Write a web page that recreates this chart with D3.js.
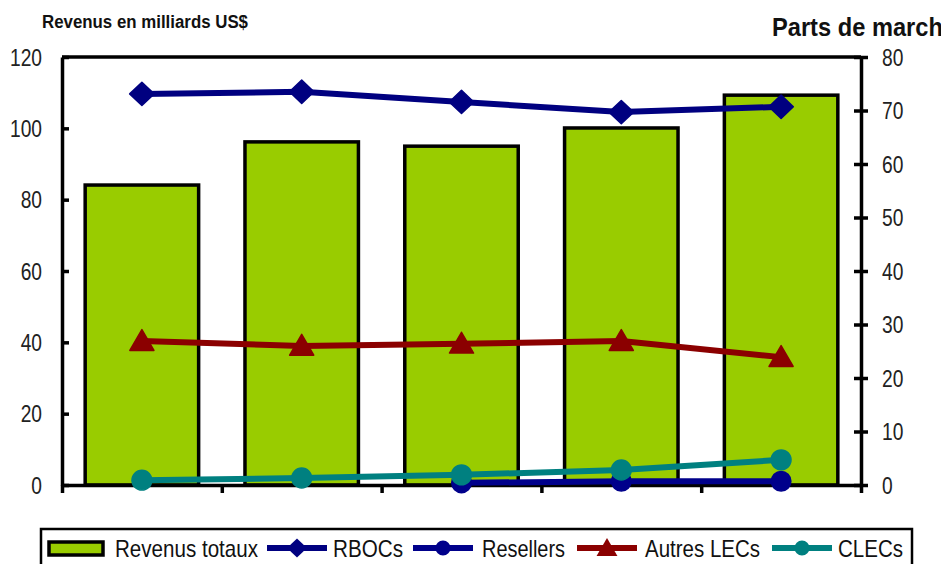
<!DOCTYPE html>
<html><head><meta charset="utf-8">
<script src="https://cdn.jsdelivr.net/npm/d3@7"></script>
<style>body{margin:0;background:#fff}svg{display:block}</style>
</head><body>
<script>
const categories = ["1", "2", "3", "4", "5"];
const revenus = [84.1, 96.2, 95.0, 100.1, 109.3];
const rbocs = [73.1, 73.5, 71.6, 69.7, 70.7];
const resellers = [null, null, 0.4, 0.7, 0.7];
const autresLECs = [26.9, 26.0, 26.4, 26.9, 23.9];
const clecs = [0.9, 1.3, 1.9, 2.8, 4.7];
const leftTicks = [0, 20, 40, 60, 80, 100, 120];
const rightTicks = [0, 10, 20, 30, 40, 50, 60, 70, 80];

const W = 941, H = 564;
const font = "'Liberation Sans',Arial,sans-serif";
const svg = d3.select("body").append("svg").attr("width", W).attr("height", H);

// condense text horizontally (Arial Narrow look)
function narrow(sel, f) {
  sel.each(function () {
    const w = this.getComputedTextLength();
    d3.select(this).attr("textLength", w * f).attr("lengthAdjust", "spacingAndGlyphs");
  });
}

// custom symbols
const diamond = {draw(ctx, size) { const r = Math.sqrt(size / 2); ctx.moveTo(0, -r * 0.95); ctx.lineTo(r, 0); ctx.lineTo(0, r * 0.95); ctx.lineTo(-r, 0); ctx.closePath(); }};
const triangle = {draw(ctx, size) { const s = Math.sqrt(size) / 2; ctx.moveTo(0, -s * 1.05); ctx.lineTo(s * 1.1, s * 0.85); ctx.lineTo(-s * 1.1, s * 0.85); ctx.closePath(); }};

const x0 = 62, x1 = 861, yTop = 57, yBot = 485;
const x = d3.scaleBand().domain(categories).range([x0, x1]).paddingInner(0.29).paddingOuter(0.145);
const xc = d3.scalePoint().domain(categories).range([x0, x1]).padding(0.5);
const yL = d3.scaleLinear().domain([0, 120]).range([yBot, yTop]);
const yR = d3.scaleLinear().domain([0, 80]).range([yBot, yTop]);

// bars
svg.append("g").selectAll("rect").data(revenus).join("rect")
  .attr("x", (d, i) => x(categories[i])).attr("width", x.bandwidth())
  .attr("y", d => yL(d)).attr("height", d => yBot - yL(d))
  .attr("fill", "#99CC00").attr("stroke", "#000").attr("stroke-width", 3.5);

// frame top line
svg.append("line").attr("x1", x0).attr("x2", x1).attr("y1", yTop).attr("y2", yTop)
  .attr("stroke", "#000").attr("stroke-width", 3.5);

// left axis
const gL = svg.append("g").attr("transform", `translate(${x0},0)`)
  .call(d3.axisLeft(yL).tickValues(leftTicks).tickSizeInner(7).tickSizeOuter(0).tickPadding(13));
gL.selectAll(".tick line").attr("x2", 7);
// right axis
const gR = svg.append("g").attr("transform", `translate(${x1},0)`)
  .call(d3.axisRight(yR).tickValues(rightTicks).tickSizeInner(7).tickSizeOuter(0).tickPadding(14));
gR.selectAll(".tick line").attr("x1", -7);
// bottom axis
const boundaries = d3.range(categories.length + 1).map(i => x0 + i * (x1 - x0) / categories.length);
const gB = svg.append("g").attr("transform", `translate(0,${yBot})`)
  .call(d3.axisBottom(d3.scaleLinear().domain([x0, x1]).range([x0, x1])).tickValues(boundaries).tickSizeInner(8).tickSizeOuter(0).tickFormat(""));
[gL, gR, gB].forEach(g => {
  g.selectAll("path").attr("stroke", "#000").attr("stroke-width", 3.5);
  g.selectAll(".tick line").attr("stroke", "#000").attr("stroke-width", 3.5);
  g.selectAll("text").attr("font-family", font).attr("font-size", 24).attr("fill", "#222").attr("dy", "0.34em");
});
narrow(gL.selectAll("text"), 0.8);
narrow(gR.selectAll("text"), 0.8);

// lines
const series = [
  {name: "RBOCs", data: rbocs, color: "#000080", sym: diamond, size: 300, lsize: 200},
  {name: "Resellers", data: resellers, color: "#00008B", sym: d3.symbolCircle, size: 300, lsize: 180},
  {name: "Autres LECs", data: autresLECs, color: "#8B0000", sym: triangle, size: 480, lsize: 360},
  {name: "CLECs", data: clecs, color: "#008080", sym: d3.symbolCircle, size: 310, lsize: 180}
];
const drawOrder = [series[0], series[2], series[1], series[3]];
drawOrder.forEach(s => {
  const line = d3.line().defined(d => d != null).x((d, i) => xc(categories[i])).y(d => yR(d));
  svg.append("path").datum(s.data).attr("d", line)
    .attr("fill", "none").attr("stroke", s.color).attr("stroke-width", 6).attr("stroke-linejoin", "round");
  svg.append("g").selectAll("path").data(s.data.map((d, i) => ({d, i})).filter(o => o.d != null)).join("path")
    .attr("d", d3.symbol().type(s.sym).size(s.size))
    .attr("transform", o => `translate(${xc(categories[o.i])},${yR(o.d)})`)
    .attr("fill", s.color).attr("stroke", s.color).attr("stroke-width", 1.5).attr("stroke-linejoin", "round");
});

// titles
const t1 = svg.append("text").attr("x", 42).attr("y", 28).text("Revenus en milliards US$")
  .attr("font-family", font).attr("font-size", 18).attr("font-weight", "bold").attr("fill", "#111");
t1.attr("textLength", 206).attr("lengthAdjust", "spacingAndGlyphs");
const t2 = svg.append("text").attr("x", 772).attr("y", 36).text("Parts de marché")
  .attr("font-family", font).attr("font-size", 25).attr("font-weight", "bold").attr("fill", "#111");
t2.attr("textLength", 184).attr("lengthAdjust", "spacingAndGlyphs");

// legend
const lg = svg.append("g");
lg.append("rect").attr("x", 41).attr("y", 529).attr("width", 871).attr("height", 42)
  .attr("fill", "#fff").attr("stroke", "#000").attr("stroke-width", 2.5);
const ly = 548;
lg.append("rect").attr("x", 49).attr("y", ly - 6).attr("width", 54).attr("height", 13)
  .attr("fill", "#99CC00").attr("stroke", "#000").attr("stroke-width", 3.5);
const legTexts = [{t: "Revenus totaux", x: 115, w: 143}];
const legItems = [
  {s: series[0], lx: 267, tx: 333, w: 70},
  {s: series[1], lx: 413, tx: 482, w: 83},
  {s: series[2], lx: 577, tx: 645, w: 115},
  {s: series[3], lx: 772, tx: 838, w: 65}
];
legItems.forEach(o => {
  lg.append("line").attr("x1", o.lx).attr("x2", o.lx + 60).attr("y1", ly).attr("y2", ly)
    .attr("stroke", o.s.color).attr("stroke-width", 6);
  lg.append("path").attr("d", d3.symbol().type(o.s.sym).size(o.s.lsize))
    .attr("transform", `translate(${o.lx + 30},${ly})`)
    .attr("fill", o.s.color);
  legTexts.push({t: o.s.name, x: o.tx, w: o.w});
});
legTexts.forEach(o => {
  lg.append("text").attr("x", o.x).attr("y", ly + 9).text(o.t)
    .attr("font-family", font).attr("font-size", 24).attr("fill", "#111")
    .attr("textLength", o.w).attr("lengthAdjust", "spacingAndGlyphs");
});
</script>
</body></html>
